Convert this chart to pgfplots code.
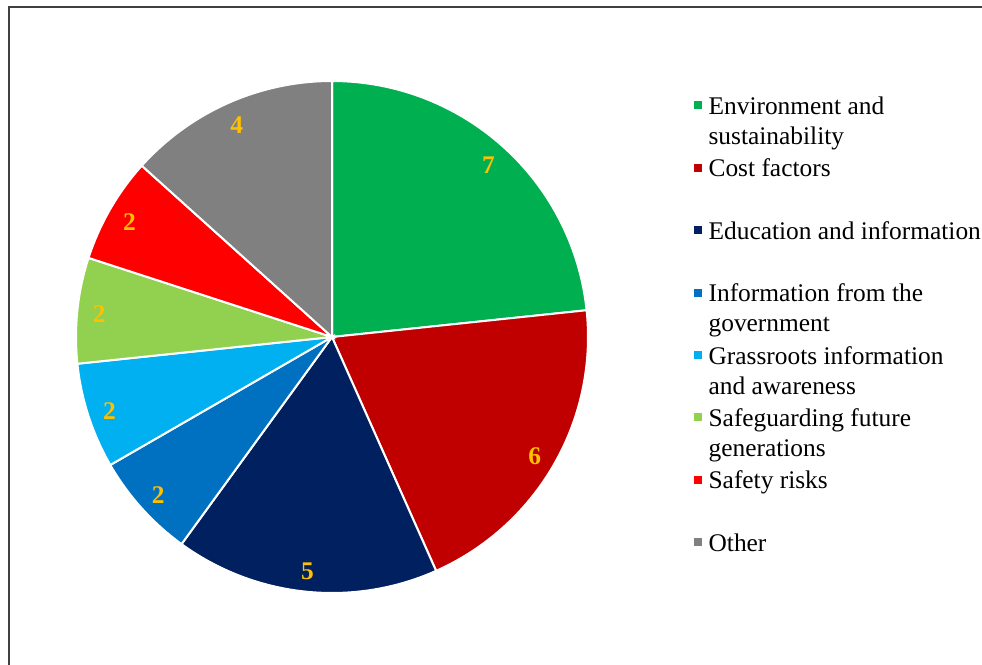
\documentclass[border=0pt]{standalone}
\usepackage{pgfplots}
\pgfplotsset{compat=1.18}
\usepackage{pgfplotstable}
\usepackage{fontspec}
\setmainfont{Liberation Serif}
\definecolor{pc0}{HTML}{00B050}
\definecolor{pc1}{HTML}{C00000}
\definecolor{pc2}{HTML}{002060}
\definecolor{pc3}{HTML}{0070C0}
\definecolor{pc4}{HTML}{00B0F0}
\definecolor{pc5}{HTML}{92D050}
\definecolor{pc6}{HTML}{FF0000}
\definecolor{pc7}{HTML}{808080}
\definecolor{lab}{HTML}{FFC000}
\definecolor{framecol}{HTML}{404040}

\pgfplotstableread{
label value
Env 7
Cost 6
Edu 5
Gov 2
Grass 2
Future 2
Safety 2
Other 4
}\piedata

\newcommand\entry[1]{\begin{tabular}[t]{@{}l@{}}#1\end{tabular}}

\begin{document}
\begin{tikzpicture}[x=0.5pt,y=0.5pt]
\useasboundingbox (0,0) rectangle (982,665);
\def\total{0}
\pgfplotsforeachungrouped \i in {0,...,7}{%
  \pgfplotstablegetelem{\i}{value}\of\piedata
  \pgfmathsetmacro\total{\total+\pgfplotsretval}}
\def\cum{0}
\pgfplotsforeachungrouped \i in {0,...,7}{%
  \pgfplotstablegetelem{\i}{value}\of\piedata
  \let\curval\pgfplotsretval
  \pgfmathsetmacro\aS{90-360*\cum/\total}
  \pgfmathsetmacro\cum{\cum+\curval}
  \pgfmathsetmacro\aE{90-360*\cum/\total}
  \pgfmathsetmacro\aM{(\aS+\aE)/2}
  \expandafter\xdef\csname aS\i\endcsname{\aS}
  \expandafter\xdef\csname aE\i\endcsname{\aE}
  \expandafter\xdef\csname aM\i\endcsname{\aM}
  \expandafter\xdef\csname val\i\endcsname{\curval}
}
\draw[framecol, line width=1pt] (8.5,-20) -- (8.5,657.5) -- (1000,657.5);
\begin{axis}[at={(0,0)}, anchor=south west, width=491pt, height=332.5pt,
  scale only axis, xmin=0, xmax=982, ymin=0, ymax=665, hide axis, clip=false,
  legend image code/.code={\fill[#1, draw=none] (0pt,2.5pt) rectangle (4pt,6.5pt); \path (0pt,0pt) -- (6.8pt,0pt);},
  legend style={at={(axis description cs:0.7057,0.8595)}, anchor=north west,
    draw=none, fill=none, inner sep=0pt, outer sep=0pt, row sep=0pt, column sep=0pt,
    font=\fontsize{12.7}{15}\selectfont, cells={anchor=base west},
    nodes={inner sep=0pt, text height=10.5pt, text depth=20.7pt}},
]
\pgfplotsinvokeforeach{0,...,7}{
  \addplot[fill=pc#1, draw=white, line width=1pt, domain={\csname aE#1\endcsname}:{\csname aS#1\endcsname}, samples=80]
    ({332+256*cos(x)},{328+256*sin(x)}) -- (axis cs:332,328) -- cycle;
  \node[text=lab, font=\fontsize{12.7}{15}\selectfont\bfseries, yshift=-1pt]
    at (axis cs:{332+234*cos(\csname aM#1\endcsname)},{328+234*sin(\csname aM#1\endcsname)}) {\csname val#1\endcsname};
}
\legend{\entry{Environment and\\sustainability}, \entry{Cost factors}, \entry{Education and information}, \entry{Information from the\\government}, \entry{Grassroots information\\and awareness}, \entry{Safeguarding future\\generations}, \entry{Safety risks}, \entry{Other}}
\end{axis}
\end{tikzpicture}
\end{document}
